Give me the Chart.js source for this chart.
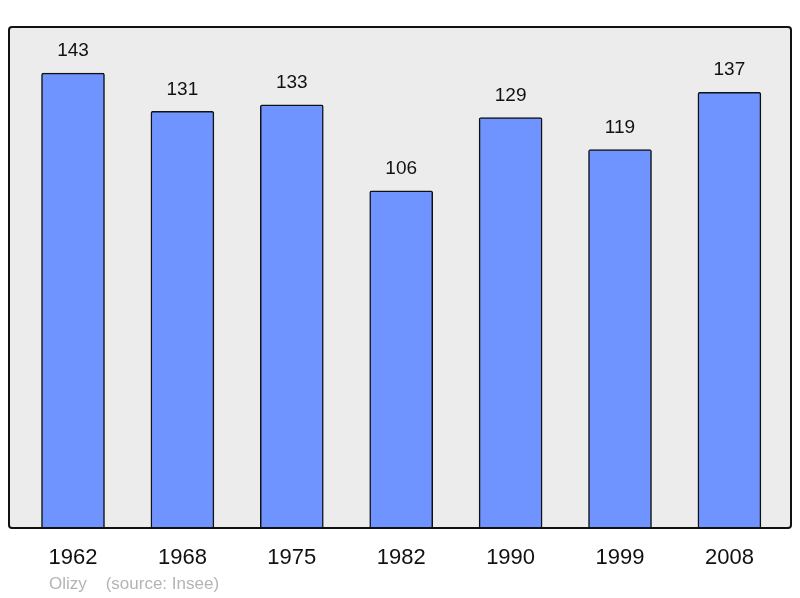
<!DOCTYPE html>
<html>
<head>
<meta charset="utf-8">
<script src="https://cdn.jsdelivr.net/npm/chart.js@4"></script>
<style>
  html, body { margin: 0; padding: 0; background: #fff; }
  #wrap { width: 800px; height: 598px; }
</style>
</head>
<body>
<div id="wrap"><canvas id="chart"></canvas></div>
<script>
// population per census year
const years = ["1962", "1968", "1975", "1982", "1990", "1999", "2008"];
const population = [143, 131, 133, 106, 129, 119, 137];
const footer = "Olizy    (source: Insee)";

// draws the grey framed plot box behind the bars
const frameBox = {
    id: 'frameBox',
    beforeDatasetsDraw(chart) {
        const { ctx, chartArea: a } = chart;
        ctx.save();
        ctx.beginPath();
        ctx.roundRect(a.left, a.top, a.right - a.left, a.bottom - a.top, 3);
        ctx.fillStyle = '#ececec';
        ctx.fill();
        ctx.restore();
    },
    afterDatasetsDraw(chart) {
        const { ctx, chartArea: a } = chart;
        ctx.save();
        ctx.beginPath();
        ctx.roundRect(a.left, a.top, a.right - a.left, a.bottom - a.top, 3);
        ctx.lineWidth = 2;
        ctx.strokeStyle = '#111';
        ctx.stroke();
        ctx.restore();
    }
};

// value above each bar + source line
const barLabels = {
    id: 'barLabels',
    afterDraw(chart) {
        const ctx = chart.ctx;
        ctx.save();
        ctx.font = '19px "Liberation Sans", Arial, sans-serif';
        ctx.fillStyle = '#111';
        ctx.textAlign = 'center';
        ctx.textBaseline = 'middle';
        chart.getDatasetMeta(0).data.forEach((bar, i) => {
            ctx.fillText(population[i], bar.x, bar.y - 22);
        });
        ctx.font = '17px "Liberation Sans", Arial, sans-serif';
        ctx.fillStyle = '#b4b4b4';
        ctx.textAlign = 'left';
        ctx.fillText(footer, 49, 584);
        ctx.restore();
    }
};

const ctx = document.getElementById('chart').getContext('2d');
new Chart(ctx, {
    type: 'bar',
    data: {
        datasets: [{
            data: population.map((v, i) => ({ x: i, y: v })),
            backgroundColor: '#7094ff',
            borderColor: '#111',
            borderWidth: 1.5,
            borderRadius: 2,
            borderSkipped: 'bottom',
            barThickness: 63
        }]
    },
    options: {
        responsive: true,
        maintainAspectRatio: false,
        animation: false,
        layout: { padding: { top: 27, left: 9, right: 9, bottom: 0 } },
        plugins: {
            legend: { display: false },
            tooltip: { enabled: false }
        },
        scales: {
            x: {
                type: 'linear',
                offset: false,
                min: -0.585,
                max: 6.563,
                grid: { display: false, drawTicks: false, offset: false },
                border: { display: false },
                afterBuildTicks(scale) {
                    scale.ticks = years.map((y, i) => ({ value: i }));
                },
                afterFit(scale) { scale.height = 70; },
                ticks: {
                    padding: 17,
                    color: '#111',
                    font: { size: 22, family: '"Liberation Sans", Arial, sans-serif' },
                    callback: (v) => years[v]
                }
            },
            y: {
                display: false,
                min: 0,
                max: 157.5
            }
        }
    },
    plugins: [frameBox, barLabels]
});
</script>
</body>
</html>
